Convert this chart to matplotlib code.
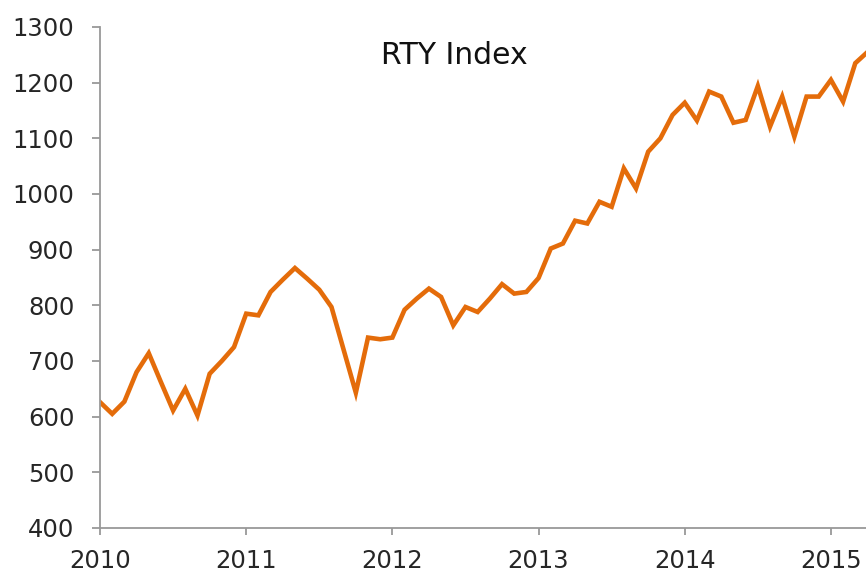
import matplotlib
matplotlib.use('Agg')
import matplotlib.pyplot as plt
import numpy as np

# monthly closes, Jan 2010 .. Apr 2015
years = [2010, 2011, 2012, 2013, 2014, 2015]
rty_2010 = [626, 605, 627, 680, 714, 662, 611, 650, 602, 677, 700, 725]
rty_2011 = [785, 782, 824, 846, 867, 848, 828, 797, 720, 643, 742, 739]
rty_2012 = [742, 792, 812, 830, 815, 764, 797, 788, 812, 838, 821, 824]
rty_2013 = [849, 902, 911, 952, 947, 986, 977, 1046, 1010, 1076, 1100, 1142]
rty_2014 = [1164, 1132, 1184, 1175, 1128, 1133, 1194, 1121, 1175, 1103, 1175, 1175]
rty_2015 = [1205, 1166, 1235, 1255]

values = rty_2010 + rty_2011 + rty_2012 + rty_2013 + rty_2014 + rty_2015
# x in fractional years, one point per month
x = 2010 + np.arange(len(values)) / 12.0

plt.rcParams['font.family'] = ['DejaVu Sans']

fig = plt.figure(figsize=(8.66, 5.72), dpi=100)
ax = fig.add_axes([0.1155, 0.077, 0.8845, 0.8758])

ax.plot(x, values, color='#E46C0A', linewidth=3.3, solid_joinstyle='miter')

ax.set_xlim(2010, 2015.24)
ax.set_ylim(400, 1300)
ax.set_xticks(years)
ax.set_xticklabels([str(y) for y in years])
ax.set_yticks(np.arange(400, 1301, 100))

# only left and bottom axis lines, grey
for side in ['top', 'right']:
    ax.spines[side].set_visible(False)
for side in ['left', 'bottom']:
    ax.spines[side].set_color('#999999')
    ax.spines[side].set_linewidth(1.3)

ax.tick_params(axis='both', direction='out', color='#999999', width=1.3,
               labelsize=17.5, labelcolor='#262626')
ax.tick_params(axis='y', length=5.5, pad=13)
ax.tick_params(axis='x', length=5, pad=10)

ax.text(0.463, 0.944, 'RTY Index', transform=ax.transAxes, ha='center', va='center',
        fontsize=21.5, color='#111111')

plt.savefig('out.png', dpi=100)
